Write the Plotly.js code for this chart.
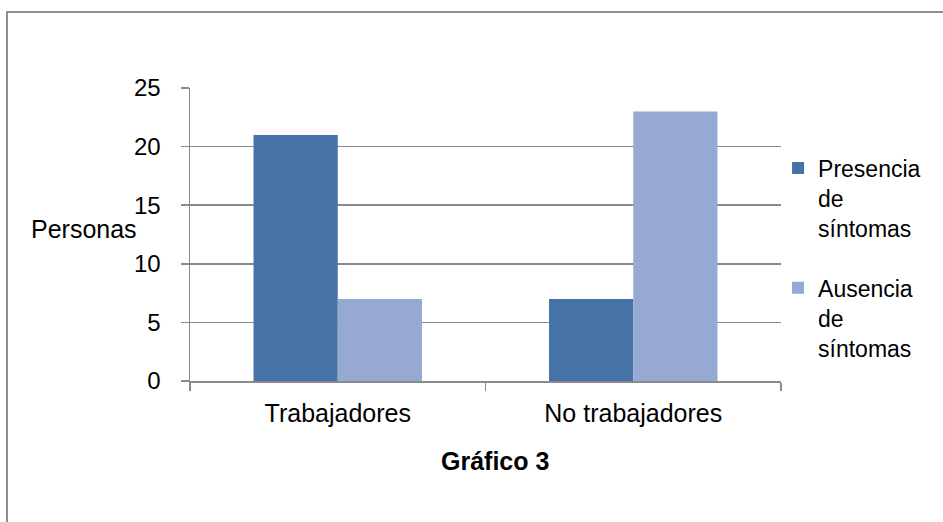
<!DOCTYPE html>
<html>
<head>
<meta charset="utf-8">
<script src="https://cdn.plot.ly/plotly-3.0.1.min.js"></script>
<style>
  html, body { margin: 0; padding: 0; background: #fff; }
  #wrap { position: relative; width: 943px; height: 522px; overflow: hidden; }
  #chart { position: absolute; left: 0; top: 0; width: 943px; height: 522px; }
  #frame { position: absolute; left: 6px; top: 11px; width: 1000px; height: 1000px;
           border: 2px solid #8e8e8e; pointer-events: none; z-index: 5; }
</style>
</head>
<body>
<div id="wrap">
  <div id="chart"></div>
  <div id="frame"></div>
</div>
<script>
const categories = ["Trabajadores", "No trabajadores"];
const seriesNames = ["Presencia<br>de<br>síntomas", "Ausencia<br>de<br>síntomas"];
const presencia = [21, 7];
const ausencia = [7, 23];
const yTicks = [0, 5, 10, 15, 20, 25];
const yTitle = "Personas";
const xTitle = "Gráfico 3";

const font = "Liberation Sans, Arial, sans-serif";

const traces = [
  { type: "bar", x: categories, y: presencia, name: seriesNames[0],
    legendgroup: "a", marker: { color: "#4572A7" }, hoverinfo: "y" },
  { type: "bar", x: categories, y: ausencia, name: seriesNames[1],
    legendgroup: "b", marker: { color: "#95A9D2" }, hoverinfo: "y" }
];

const layout = {
  width: 943, height: 522,
  margin: { l: 190, r: 162, t: 88, b: 141 },
  paper_bgcolor: "#fff", plot_bgcolor: "#fff",
  font: { family: font, size: 24, color: "#000" },
  barmode: "group", bargap: 0.43, bargroupgap: 0,
  showlegend: true,
  legend: { x: 0.995, xanchor: "left", xref: "paper", y: 0.80, yanchor: "top",
            valign: "top",
            font: { family: font, size: 23, color: "#000" },
            tracegroupgap: 27, bgcolor: "rgba(0,0,0,0)", itemclick: false },
  xaxis: {
    type: "category", tickson: "boundaries", ticks: "outside", ticklen: 8,
    tickcolor: "#8a8a8a", tickwidth: 1.5,
    showline: true, linecolor: "#8a8a8a", linewidth: 1.5,
    showgrid: false, zeroline: false,
    tickfont: { family: font, size: 25, color: "#000" },
    ticklabelstandoff: 9
  },
  yaxis: {
    range: [0, 25], tickvals: yTicks, ticks: "outside", ticklen: 8,
    tickcolor: "#8a8a8a", tickwidth: 1.5,
    showline: true, linecolor: "#8a8a8a", linewidth: 1.5,
    showgrid: true, gridcolor: "#8a8a8a", gridwidth: 1.5, zeroline: false,
    tickfont: { family: font, size: 24, color: "#000" },
    ticklabelstandoff: 15
  },
  annotations: [
    { text: yTitle, xref: "paper", yref: "y", x: -0.272, y: 13, xanchor: "left",
      yanchor: "middle", showarrow: false, font: { family: font, size: 25, color: "#000" } },
    { text: "<b>" + xTitle + "</b>", xref: "paper", yref: "paper", x: 0.516, y: -0.274,
      xanchor: "center", yanchor: "middle", showarrow: false,
      font: { family: font, size: 25, color: "#000" } }
  ]
};

Plotly.newPlot("chart", traces, layout, { displayModeBar: false, staticPlot: true });
</script>
</body>
</html>
